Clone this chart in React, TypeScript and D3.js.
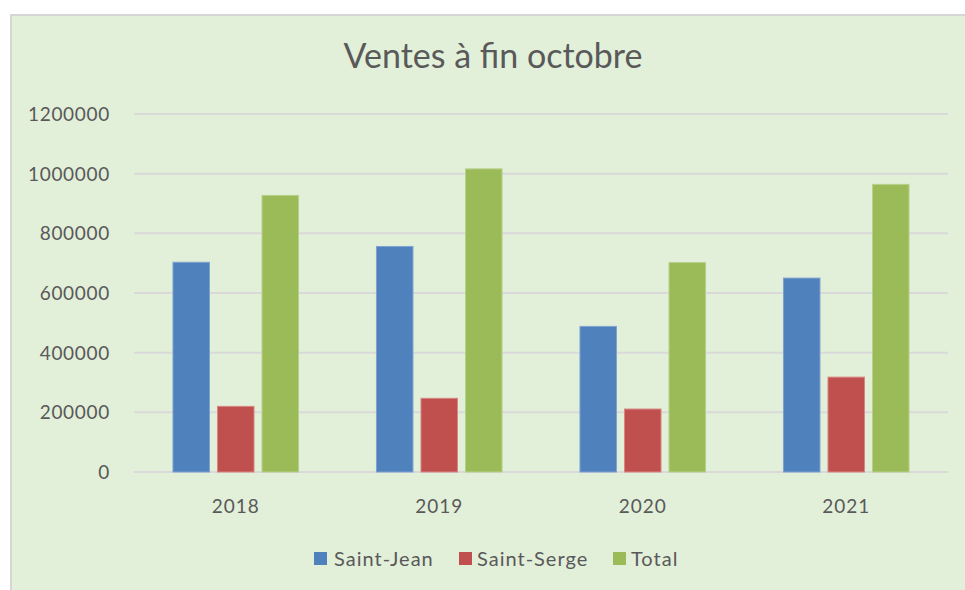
import React from "react";
import * as d3 from "d3";

const title = "Ventes à fin octobre";
const years = ["2018", "2019", "2020", "2021"];
const seriesNames = ["Saint-Jean", "Saint-Serge", "Total"];
const saintJean = [703000, 756000, 488000, 650000];
const saintSerge = [220000, 247000, 211000, 318000];
const total = [927000, 1016000, 702000, 964000];
const yTicks = [0, 200000, 400000, 600000, 800000, 1000000, 1200000];
const colors = ["#4f81bd", "#c0504d", "#9bbb59"];
const strokes = ["#7fa3d1", "#d88684", "#b8d089"];

const W = 965;
const H = 590;
const FONT = "Lato, 'Open Sans', sans-serif";

export default function App() {
  const values = [saintJean, saintSerge, total];
  const y = d3.scaleLinear().domain([0, 1200000]).range([472, 114]);
  const x0 = d3
    .scaleBand<string>()
    .domain(years)
    .range([134, 948])
    .paddingInner(0.383)
    .paddingOuter(0.1915);
  const x1 = d3
    .scaleBand<string>()
    .domain(seriesNames)
    .range([0, x0.bandwidth()])
    .paddingInner(0.18)
    .paddingOuter(0);

  const legendItems = [
    { name: seriesNames[0], x: 314, tx: 334 },
    { name: seriesNames[1], x: 459, tx: 477 },
    { name: seriesNames[2], x: 613, tx: 631 },
  ];

  return (
    <svg
      width={W}
      height={H}
      style={{ position: "absolute", left: 0, top: 0, display: "block" }}
    >
      <rect x={0} y={0} width={W} height={H} fill="#ffffff" />
      <rect
        x={11}
        y={15}
        width={W + 20}
        height={H + 20}
        fill="#e2efd9"
        stroke="#d6d6d6"
        strokeWidth={2}
      />
      <text
        x={493}
        y={68}
        textAnchor="middle"
        fontFamily={FONT}
        fontSize={34}
        fill="#595959"
      >
        {title}
      </text>
      {yTicks.map((t) => (
        <g key={t}>
          <line
            x1={134}
            x2={948}
            y1={y(t)}
            y2={y(t)}
            stroke="#d9d9d9"
            strokeWidth={2}
          />
          <text
            x={110}
            y={y(t)}
            dy="0.36em"
            textAnchor="end"
            fontFamily={FONT}
            fontSize={19}
            letterSpacing={0.7}
            fill="#595959"
          >
            {t}
          </text>
        </g>
      ))}
      {years.map((yr, i) => (
        <g key={yr} transform={`translate(${x0(yr)},0)`}>
          {seriesNames.map((s, j) => (
            <rect
              key={s}
              x={x1(s)}
              y={y(values[j][i])}
              width={x1.bandwidth()}
              height={y(0) - y(values[j][i])}
              fill={colors[j]}
              stroke={strokes[j]}
              strokeWidth={1}
            />
          ))}
          <text
            x={x0.bandwidth() / 2}
            y={513}
            textAnchor="middle"
            fontFamily={FONT}
            fontSize={19}
            letterSpacing={1}
            fill="#595959"
          >
            {yr}
          </text>
        </g>
      ))}
      {legendItems.map((it, j) => (
        <g key={it.name}>
          <rect x={it.x} y={552} width={13} height={13} fill={colors[j]} />
          <text
            x={it.tx}
            y={559}
            dy="0.36em"
            fontFamily={FONT}
            fontSize={20}
            letterSpacing={1}
            fill="#595959"
          >
            {it.name}
          </text>
        </g>
      ))}
    </svg>
  );
}
